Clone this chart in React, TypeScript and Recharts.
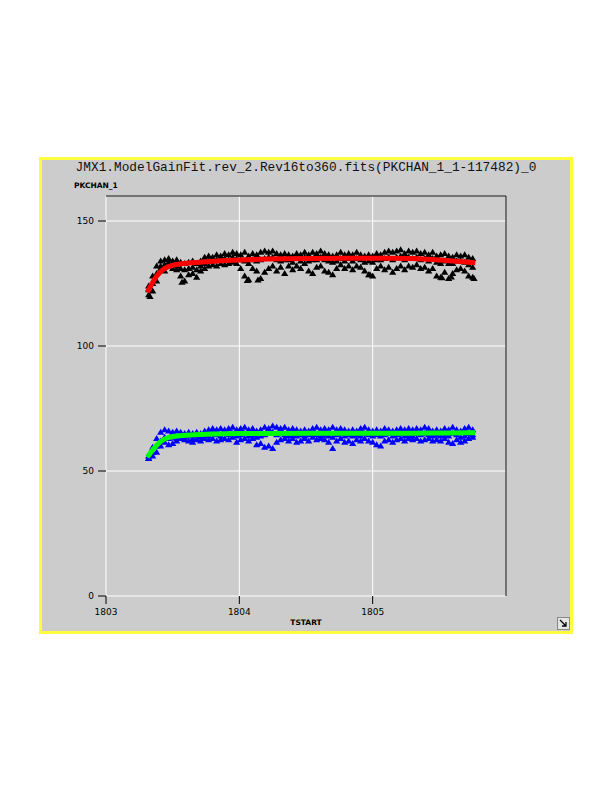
import React from "react";
import {
  CartesianGrid,
  Scatter,
  ScatterChart,
  XAxis,
  YAxis,
} from "recharts";

const title = "JMX1.ModelGainFit.rev_2.Rev16to360.fits(PKCHAN_1_1-117482)_0";

const xTicks = [1803, 1804, 1805];
const yTicks = [0, 50, 100, 150];

// TSTART of each scan column
const scanT = [
  1803.32, 1803.35, 1803.38, 1803.41, 1803.44, 1803.47, 1803.5, 1803.53, 1803.56, 1803.59,
  1803.62, 1803.65, 1803.68, 1803.71, 1803.74, 1803.77, 1803.8, 1803.83, 1803.86, 1803.89,
  1803.92, 1803.95, 1803.98, 1804.01, 1804.04, 1804.07, 1804.1, 1804.13, 1804.16, 1804.19,
  1804.22, 1804.25, 1804.28, 1804.31, 1804.34, 1804.37, 1804.4, 1804.43, 1804.46, 1804.49,
  1804.52, 1804.55, 1804.58, 1804.61, 1804.64, 1804.67, 1804.7, 1804.73, 1804.76, 1804.79,
  1804.82, 1804.85, 1804.88, 1804.91, 1804.94, 1804.97, 1805.0, 1805.03, 1805.06, 1805.09,
  1805.12, 1805.15, 1805.18, 1805.21, 1805.24, 1805.27, 1805.3, 1805.33, 1805.36, 1805.39,
  1805.42, 1805.45, 1805.48, 1805.51, 1805.54, 1805.57, 1805.6, 1805.63, 1805.66, 1805.69,
  1805.72, 1805.75,
];

// PKCHAN_1 peak channel (upper curve, black)
const pkHigh = [
  124, 128, 132, 134, 134.5, 135, 134, 134.5, 133.5, 133,
  133.5, 134, 133, 134, 135.5, 136, 135.5, 136.5, 136, 137,
  136.5, 137.5, 137, 136.5, 137.5, 136, 137, 136.5, 137.5, 138,
  137.5, 138, 137, 136.5, 137, 136.5, 136, 137, 136.5, 137.5,
  136.5, 137.5, 137, 138, 137, 136.5, 136, 136.5, 137.5, 136.5,
  137, 136.5, 137.5, 136.5, 136, 136.5, 136, 137, 136.5, 137.5,
  138, 137.5, 138, 138.5, 137, 138, 137.5, 138, 137, 137.5,
  136.5, 137.5, 136, 136.5, 137, 136, 135.5, 136.5, 136, 136.5,
  135.5, 135,
];
const pkMid = [
  122.5, 125, 129, 132, 132.5, 133.5, 132.5, 132, 131, 130.5,
  131, 131.5, 130.5, 132, 133, 134, 134, 134.5, 134.5, 135,
  134.5, 135.5, 135, 134.5, 134, 133, 134.5, 134, 134.5, 135,
  135.5, 135.5, 134.5, 134, 134.5, 134.5, 133.5, 135, 134, 135.5,
  134, 134.5, 134.5, 135.5, 134.5, 134, 133.5, 134, 135, 134,
  135, 134, 135, 134.5, 133.5, 134, 133.5, 134.5, 134.5, 135,
  135.5, 134.5, 135.5, 136, 134.5, 135.5, 135, 135.5, 134.5, 135,
  134, 135, 133.5, 133, 134, 133, 133, 134, 134, 133.5,
  132.5, 131.5,
];
const pkLow = [
  120.5, 122, 126, 131, 130, 132, 131, 130.5, 128, 126,
  128.5, 129, 127.5, 130, 131, 132, 132.5, 132, 133, 132.5,
  133, 133.5, 133, 131, 128, 126.5, 131, 130, 127, 129.5,
  131, 132, 130, 131.5, 129, 132, 130.5, 132, 131, 133,
  130, 129, 131.5, 132, 130, 129.5, 128.5, 131, 132.5, 131,
  132, 130.5, 132, 131.5, 130, 128.5, 128, 131, 132, 130.5,
  131.5, 129.5, 131, 132, 130.5, 132, 131.5, 132.5, 131, 131.5,
  130, 131, 128, 127.5, 129.5, 127, 129, 130.5, 131, 130,
  128, 127.5,
];
const pkOutT = [1803.33, 1803.57, 1804.06, 1804.14, 1804.98, 1805.52, 1805.59, 1805.76];
const pkOutV = [119.8, 125.5, 126.2, 126.4, 128.5, 127.3, 127.6, 127];

// lower curve (blue)
const loHigh = [
  56, 59.5, 63, 65.5, 66.5, 66, 65.5, 66, 65.5, 65,
  65.5, 65, 65.5, 65, 66, 66.5, 67, 66.5, 67, 66.5,
  67, 67.5, 66.5, 67, 67.5, 66.5, 67, 66, 66.5, 67.5,
  67, 68, 67.5, 67, 67.5, 66.5, 67, 66.5, 66, 66.5,
  66, 67, 67.5, 66.5, 67, 66.5, 67.5, 66.5, 67, 66.5,
  66, 66.5, 66, 67, 67.5, 66.5, 66, 66.5, 66, 67,
  66.5, 66, 66.5, 67, 66.5, 67, 66.5, 67, 66.5, 67.5,
  67, 66, 66.5, 66, 67, 66.5, 67.5, 66.5, 66, 67,
  67.5, 66.5,
];
const loMid = [
  55, 57.5, 60, 62, 63.5, 63, 63.5, 63, 64, 63.5,
  64, 63, 64, 63.5, 64.5, 64, 65, 64.5, 64, 65,
  64.5, 65, 64, 64.5, 65, 64, 64.5, 63.5, 64, 64.5,
  65, 65.5, 64.5, 65, 64.5, 64, 64.5, 64, 64.5, 64,
  64.5, 65, 64.5, 64, 64.5, 64, 63.5, 64.5, 65, 64,
  64.5, 64, 64.5, 64, 65, 64.5, 64, 64.5, 64, 64.5,
  65, 64, 64.5, 65, 64, 64.5, 64, 65, 64.5, 65,
  64.5, 64, 64.5, 64, 64.5, 64, 65, 64.5, 63.5, 64,
  65, 64.5,
];
const loLow = [
  55, 56, 57.5, 60, 61.5, 60.5, 61, 62, 63, 62.5,
  62, 61.5, 62.5, 62, 63, 62.5, 63, 62, 62.5, 63,
  62.5, 63.5, 61.5, 62.5, 63, 62, 63, 60.5, 61, 59.5,
  60, 59, 61.5, 62.5, 63, 62, 63, 61.5, 62, 63,
  62, 63.5, 62.5, 63, 62.5, 61.5, 59, 62, 63, 61.5,
  62, 61, 62.5, 62, 63, 62, 61.5, 60.5, 60, 62,
  62.5, 61.5, 62.5, 63, 62, 63, 62.5, 63, 62, 62.5,
  63, 62, 62.5, 62, 63, 61.5, 61, 62.5, 61.5, 62,
  63, 63.5,
];

// model gain fit
const fitT = [
  1803.31, 1803.33, 1803.35, 1803.38, 1803.41, 1803.44, 1803.47, 1803.5, 1803.55, 1803.6,
  1803.7, 1803.8, 1803.9, 1804.0, 1804.2, 1804.5, 1804.8, 1805.1, 1805.3, 1805.45,
  1805.6, 1805.7, 1805.77,
];
const fitHigh = [
  121.5, 123.5, 125.5, 128, 129.8, 131, 131.8, 132.3, 132.8, 133.1,
  133.5, 133.9, 134.2, 134.4, 134.8, 135, 135.1, 135.1, 135, 134.6,
  134, 133.6, 133.3,
];
const fitLow = [
  55.5, 57, 58.5, 60.3, 61.8, 62.8, 63.4, 63.8, 64.1, 64.3,
  64.6, 64.8, 64.9, 65, 65, 65.1, 65.1, 65.1, 65.1, 65.2,
  65.2, 65.3, 65.3,
];

const pts = (ts: number[], vs: number[]) => ts.map((t, i) => ({ t, v: vs[i] }));

const blackPts = [
  ...pts(scanT, pkHigh),
  ...pts(scanT, pkMid),
  ...pts(scanT, pkLow),
  ...pts(pkOutT, pkOutV),
];
const bluePts = [...pts(scanT, loHigh), ...pts(scanT, loMid), ...pts(scanT, loLow)];
const redFit = pts(fitT, fitHigh);
const greenFit = pts(fitT, fitLow);

const tickFont = { fontSize: 9, fill: "#000", fontFamily: "DejaVu Sans" };

const YTitle = ({ viewBox }: any) => (
  <text
    x={viewBox.x - 2}
    y={viewBox.y - 8}
    fontSize={7.5}
    fontWeight="bold"
    fontFamily="DejaVu Sans"
    fill="#000"
  >
    PKCHAN_1
  </text>
);

// small filled triangle marker
const Tri = ({ cx, cy, fill }: any) => (
  <path
    d={`M${cx},${cy - 3.6}L${cx + 3.6},${cy + 2.6}L${cx - 3.6},${cy + 2.6}Z`}
    fill={fill}
  />
);

const noDot = () => <g />;

export default function App() {
  return (
    <div style={{ position: "absolute", left: 0, top: 0, width: 612, height: 792 }}>
      <div
        style={{
          position: "absolute",
          left: 39,
          top: 157,
          width: 534,
          height: 477,
          boxSizing: "border-box",
          border: "3px solid #ffff40",
          background: "#cccccc",
        }}
      />
      <div
        style={{
          position: "absolute",
          left: 39,
          top: 161,
          width: 534,
          textAlign: "center",
          fontFamily: "Liberation Mono",
          fontSize: 12.8,
          lineHeight: "14px",
          color: "#111",
        }}
      >
        {title}
      </div>
      <div style={{ position: "absolute", left: 39, top: 157 }}>
        <ScatterChart
          width={533}
          height={476}
          margin={{ top: 29, right: 56, bottom: 7, left: 37 }}
        >
          <CartesianGrid stroke="#ffffff" strokeWidth={1} />
          <XAxis
            type="number"
            dataKey="t"
            domain={[1803, 1806]}
            ticks={xTicks}
            allowDataOverflow
            axisLine={false}
            tickLine={{ stroke: "#000" }}
            tickSize={8}
            tickMargin={5}
            tick={tickFont}
            height={30}
            label={{
              value: "TSTART",
              position: "insideBottom",
              offset: 1,
              fontSize: 7.5,
              fontWeight: "bold",
              fontFamily: "DejaVu Sans",
              fill: "#000",
            }}
          />
          <XAxis
            xAxisId="top"
            orientation="top"
            type="number"
            domain={[1803, 1806]}
            ticks={xTicks}
            allowDataOverflow
            axisLine={{ stroke: "#000" }}
            tickLine={{ stroke: "#000" }}
            tickSize={8}
            tick={false}
            height={10}
          />
          <YAxis
            type="number"
            dataKey="v"
            domain={[0, 160]}
            ticks={yTicks}
            allowDataOverflow
            axisLine={false}
            tickLine={{ stroke: "#000" }}
            tickSize={8}
            tickMargin={4}
            tick={tickFont}
            width={30}
            label={<YTitle />}
          />
          <YAxis
            yAxisId="right"
            orientation="right"
            type="number"
            domain={[0, 160]}
            ticks={yTicks}
            allowDataOverflow
            axisLine={{ stroke: "#000" }}
            tickLine={{ stroke: "#000" }}
            tickSize={7}
            tick={false}
            width={10}
          />
          <Scatter data={blackPts} fill="#000" shape={Tri} isAnimationActive={false} />
          <Scatter
            data={redFit}
            line={{ stroke: "#ff0000", strokeWidth: 5 }}
            shape={noDot}
            isAnimationActive={false}
          />
          <Scatter data={bluePts} fill="#0000ff" shape={Tri} isAnimationActive={false} />
          <Scatter
            data={greenFit}
            line={{ stroke: "#00ff00", strokeWidth: 5 }}
            shape={noDot}
            isAnimationActive={false}
          />
          <Scatter xAxisId="top" yAxisId="right" data={[]} isAnimationActive={false} />
        </ScatterChart>
      </div>
      <svg
        style={{ position: "absolute", left: 557, top: 617 }}
        width={13}
        height={13}
      >
        <rect x={0.5} y={0.5} width={12} height={12} fill="#e4e4e4" stroke="#888" />
        <path d="M3 3 L9 9 M9 5 L9 9 L5 9" stroke="#000" strokeWidth={1.3} fill="none" />
      </svg>
    </div>
  );
}
